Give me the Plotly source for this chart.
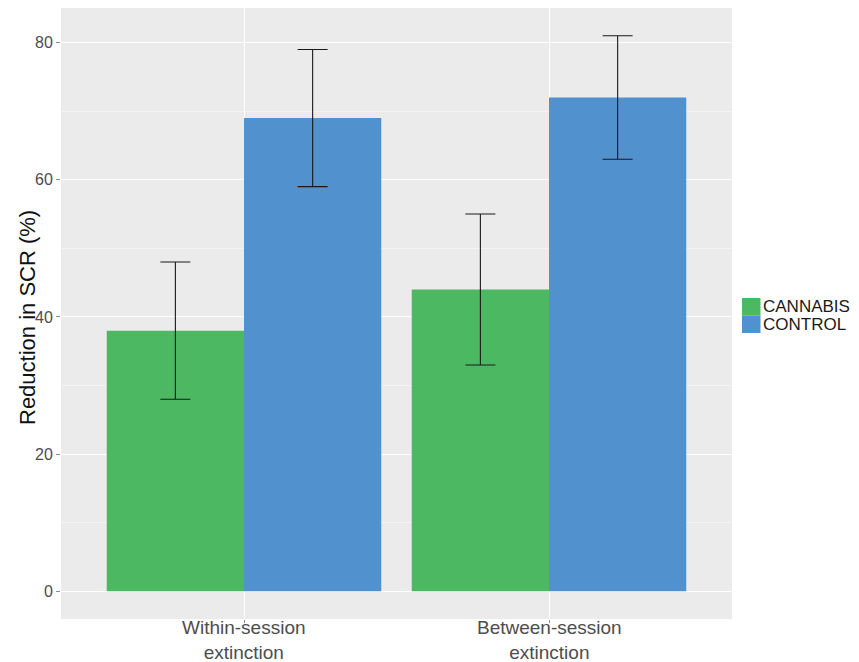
import plotly.graph_objects as go

# Extinction measures and group results
categories = ["Within-session<br>extinction", "Between-session<br>extinction"]
groups = ["CANNABIS", "CONTROL"]
cannabis_mean = [38, 44]
cannabis_low = [28, 33]
cannabis_high = [48, 55]
control_mean = [69, 72]
control_low = [59, 63]
control_high = [79, 81]
y_ticks = [0, 20, 40, 60, 80]
y_title = "Reduction in SCR (%)"

colors = {"CANNABIS": "#4DB862", "CONTROL": "#5191CE"}

series = {
    "CANNABIS": (cannabis_mean, cannabis_low, cannabis_high),
    "CONTROL": (control_mean, control_low, control_high),
}

W, H = 859, 662
ml, mr, mt, mb = 61, 127, 8, 43
pw, ph = W - ml - mr, H - mt - mb


def px_to_paper_y(py):
    return (H - mb - py) / ph


def px_to_paper_x(px):
    return (px - ml) / pw


positions = [1, 2]

fig = go.Figure()
for name in groups:
    mean, low, high = series[name]
    fig.add_trace(go.Bar(
        x=positions, y=mean, name=name, offsetgroup=name,
        marker=dict(color=colors[name], line=dict(width=0)),
        error_y=dict(type="data", symmetric=False,
                     array=[h - m for h, m in zip(high, mean)],
                     arrayminus=[m - l for m, l in zip(mean, low)],
                     color="#1a1a1a", thickness=1.1, width=15),
        showlegend=False,
    ))

# Category labels under each group
for pos, label in zip(positions, categories):
    fig.add_annotation(xref="x", yref="paper", x=pos, y=px_to_paper_y(639.5),
                       text=label, showarrow=False, xanchor="center", yanchor="middle",
                       borderpad=0,
                       font=dict(size=19, color="#4d4d4d"))

# Y-axis title
fig.add_annotation(xref="paper", yref="paper", x=px_to_paper_x(27), y=px_to_paper_y(318),
                   text=y_title, textangle=-90, showarrow=False,
                   xanchor="center", yanchor="middle",
                   font=dict(size=22, color="#111111"))

# Legend keys drawn as stacked squares with labels
key_w, key_h = 18.5, 17.5
key_x0 = 742
key_y0 = 298
for i, name in enumerate(groups):
    y_top = key_y0 + i * key_h
    fig.add_shape(type="rect", xref="paper", yref="paper",
                  x0=px_to_paper_x(key_x0), x1=px_to_paper_x(key_x0 + key_w),
                  y0=px_to_paper_y(y_top), y1=px_to_paper_y(y_top + key_h),
                  fillcolor=colors[name], line=dict(width=0))
    fig.add_annotation(xref="paper", yref="paper",
                       x=px_to_paper_x(key_x0 + key_w + 1),
                       y=px_to_paper_y(y_top + key_h / 2),
                       text=name, showarrow=False, xanchor="left", yanchor="middle",
                       borderpad=0,
                       font=dict(size=17, color="#1a1a1a"))

fig.update_layout(
    width=W, height=H,
    margin=dict(l=ml, r=mr, t=mt, b=mb, autoexpand=False),
    paper_bgcolor="white", plot_bgcolor="#EBEBEB",
    barmode="group", bargap=0.1, bargroupgap=0,
    font=dict(family="Liberation Sans, Arial, sans-serif"),
)
fig.update_xaxes(
    range=[0.4, 2.6], tickvals=positions, showticklabels=False,
    showgrid=True, gridcolor="white", gridwidth=1.2,
    ticks="outside", ticklen=3, tickcolor="#8a8a8a", tickwidth=1,
    showline=False, zeroline=False, automargin=False,
)
fig.update_yaxes(
    range=[-4.05, 85.05], tickvals=y_ticks,
    showgrid=True, gridcolor="white", gridwidth=1.2,
    minor=dict(dtick=10, tick0=0, showgrid=True, gridcolor="#F4F4F4", gridwidth=0.7),
    ticks="outside", ticklen=4, tickcolor="#8a8a8a", tickwidth=1,
    tickfont=dict(size=16, color="#4d4d4d"),
    showline=False, zeroline=False, automargin=False,
)

fig.write_html("out.html")
